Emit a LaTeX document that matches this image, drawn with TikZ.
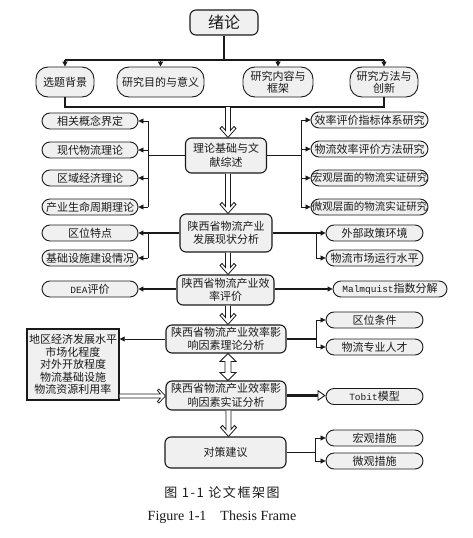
\documentclass[tikz,border=0pt]{standalone}
\usepackage{fontspec}
\setmainfont{Noto Sans CJK SC}
\newfontfamily\monofont{Liberation Mono}
\newfontfamily\serifen{Liberation Serif}
\newfontfamily\capcjk[LetterSpace=12]{Noto Sans CJK SC}
\usetikzlibrary{arrows.meta,calc}
\definecolor{boxgray}{HTML}{F0F0F0}
\definecolor{ink}{HTML}{1A1A1A}
\newcommand\mylat[1]{{\monofont\fontsize{9.5}{11}\selectfont #1}}
\begin{document}
\begin{tikzpicture}[x=1pt,y=-1pt,
  mainbox/.style={draw=ink, line width=1.1pt, rounded corners=6pt, fill=boxgray, align=center, inner sep=0pt, text=ink, font=\fontsize{11}{13.5}\selectfont},
  topbox/.style={draw=ink, line width=0.9pt, rounded corners=12pt, fill=boxgray, align=center, inner sep=0pt, text=ink, minimum height=30pt, font=\fontsize{11}{12}\selectfont},
  sidebox/.style={draw=ink, line width=0.9pt, rounded corners=8pt, fill=boxgray, inner sep=0pt, minimum height=16pt, text=ink, font=\fontsize{11}{13}\selectfont},
  lbox/.style={sidebox, minimum width=96pt},
  rbox/.style={sidebox, minimum width=117pt},
  qbox/.style={sidebox, minimum width=97pt},
  conn/.style={draw=ink, line width=1.3pt},
  thinl/.style={draw=ink, line width=0.8pt},
  tip/.style={-{Triangle[length=5pt,width=5pt]}},
  hollowdown/.style={fill=white, draw=ink, line width=0.8pt,
    to path={let \p1=(\tikztostart), \p2=(\tikztotarget) in
      (\x1-2.5pt,\y1) -- (\x1-2.5pt,\y2+7pt) -- (\x1-6pt,\y2+11pt) -- (\x1-8pt,\y2+9pt) -- (\x1,\y2)
      -- (\x1+8pt,\y2+9pt) -- (\x1+6pt,\y2+11pt) -- (\x1+2.5pt,\y2+7pt) -- (\x1+2.5pt,\y1)}},
  hollowboth/.style={fill=white, draw=ink, line width=0.8pt,
    to path={let \p1=(\tikztostart), \p2=(\tikztotarget) in
      (\x1,\y1) -- (\x1+8pt,\y1-8pt) -- (\x1+3pt,\y1-8pt) -- (\x1+3pt,\y2+8pt) -- (\x1+8pt,\y2+8pt) -- (\x1,\y2)
      -- (\x1-8pt,\y2+8pt) -- (\x1-3pt,\y2+8pt) -- (\x1-3pt,\y1-8pt) -- (\x1-8pt,\y1-8pt) -- cycle}},
  hollowright/.style={fill=white, draw=ink, line width=0.7pt,
    to path={let \p1=(\tikztostart), \p2=(\tikztotarget) in
      (\x1,\y1+2pt) -- (\x2-5pt,\y1+2pt) -- (\x2-8pt,\y1+5.5pt) -- (\x2-6.5pt,\y1+7pt) -- (\x2,\y1)
      -- (\x2-6.5pt,\y1-7pt) -- (\x2-8pt,\y1-5.5pt) -- (\x2-5pt,\y1-2pt) -- (\x1,\y1-2pt)}}
]
\useasboundingbox[fill=white] (0,0) rectangle (472,538);

% top
\node[mainbox, minimum width=68pt, minimum height=25pt, font=\fontsize{16}{18}\selectfont] (xulun) at (224,22.5) {绪论};
\node[topbox, minimum width=58pt] (bg) at (65,82) {选题背景};
\node[topbox, minimum width=87pt] (md) at (160.5,82) {研究目的与意义};
\node[topbox, minimum width=70pt] (nr) at (278,82) {研究内容与\\框架};
\node[topbox, minimum width=68pt] (ff) at (384,82) {研究方法与\\创新};

\coordinate (busA) at (0,60);
\coordinate (busB) at (0,107);
\draw[conn] (xulun.south) -- (xulun.south |- busA);
\draw[conn] (bg.north |- busA) -- (ff.north |- busA);
\foreach \n in {bg,md,nr,ff}{\draw[conn,tip] (\n.north |- busA) -- (\n.north);}
\draw[conn] (bg.south) -- (bg.south |- busB) -- (ff.south |- busB) -- (ff.south);

% theory
\node[mainbox, minimum width=81pt, minimum height=35pt] (ll) at (226,155.5) {理论基础与文\\献综述};
\coordinate (c1) at (228,107);
\draw[hollowdown] (c1) to (ll.north);

\node[lbox] (l1) at (90,121) {相关概念界定};
\node[lbox] (l2) at (90,150) {现代物流理论};
\node[lbox] (l3) at (90,178) {区域经济理论};
\node[lbox] (l4) at (90,207) {产业生命周期理论};
\node[rbox] (r1) at (369.5,120) {效率评价指标体系研究};
\node[rbox] (r2) at (369.5,149) {物流效率评价方法研究};
\node[rbox, font=\fontsize{10.5}{12}\selectfont] (r3) at (369.5,178) {宏观层面的物流实证研究};
\node[rbox, font=\fontsize{10.5}{12}\selectfont] (r4) at (369.5,207) {微观层面的物流实证研究};

\coordinate (lv) at (148,0);
\coordinate (rv) at (301,0);
\draw[conn] (ll.west) -- (ll.west -| lv);
\draw[thinl] (lv |- l1.east) -- (lv |- l4.east);
\foreach \n in {l1,l2,l3,l4}{\draw[thinl,tip] (lv |- \n.east) -- (\n.east);}
\draw[conn] (ll.east) -- (ll.east -| rv);
\draw[thinl] (rv |- r1.west) -- (rv |- r4.west);
\foreach \n in {r1,r2,r3,r4}{\draw[thinl,tip] (rv |- \n.west) -- (\n.west);}

% current state
\node[mainbox, minimum width=92pt, minimum height=38pt] (xz) at (226,233) {陕西省物流产业\\发展现状分析};
\draw[hollowdown] ([xshift=2pt]ll.south) to (xz.north);
\node[lbox] (q1) at (90,233) {区位特点};
\node[lbox] (q2) at (90,258) {基础设施建设情况};
\node[qbox] (w1) at (374.5,233) {外部政策环境};
\node[qbox] (w2) at (374.5,258) {物流市场运行水平};
\coordinate (rv2) at (316,0);
\draw[conn,tip] (xz.west) -- (q1.east);
\draw[thinl] (lv |- q1.east) -- (lv |- q2.east);
\draw[thinl,tip] (lv |- q2.east) -- (q2.east);
\draw[conn,tip] (xz.east) -- (w1.west);
\draw[thinl] (rv2 |- w1.west) -- (rv2 |- w2.west);
\draw[thinl,tip] (rv2 |- w2.west) -- (w2.west);

% efficiency
\node[mainbox, minimum width=97pt, minimum height=30pt] (xl) at (225.5,290) {陕西省物流产业效\\率评价};
\draw[hollowdown] ([xshift=2pt]xz.south) to (xl.north);
\node[lbox] (dea) at (90,289) {\mylat{DEA}评价};
\node[sidebox, minimum width=114pt] (mq) at (390,289) {\mylat{Malmquist}指数分解};
\draw[conn,tip] (dea.east -| xl.west) -- (dea.east);
\draw[conn,tip] (mq.west -| xl.east) -- (mq.west);

% factor theory
\node[mainbox, minimum width=120pt, minimum height=28pt] (lf) at (226,339) {陕西省物流产业效率影\\响因素理论分析};
\draw[hollowdown] ([xshift=2.5pt]xl.south) to (lf.north);
\node[qbox] (k1) at (374.5,320) {区位条件};
\node[qbox] (k2) at (374.5,347) {物流专业人才};
\draw[conn] (lf.east) -- (lf.east -| rv2);
\draw[thinl] (rv2 |- k1.west) -- (rv2 |- k2.west);
\draw[thinl,tip] (rv2 |- k1.west) -- (k1.west);
\draw[thinl,tip] (rv2 |- k2.west) -- (k2.west);

\node[draw=ink, line width=1.4pt, fill=boxgray, minimum width=92pt, minimum height=71pt, inner sep=0pt, align=center, text=ink, font=\fontsize{11}{12.6}\selectfont] (fac) at (73,364.5)
  {地区经济发展水平\\市场化程度\\对外开放程度\\物流基础设施\\物流资源利用率};
\draw[thinl,tip] (lf.west) -- (lf.west -| fac.east);

% factor empirical
\node[mainbox, minimum width=120pt, minimum height=29pt] (sz) at (226,395.5) {陕西省物流产业效率影\\响因素实证分析};
\draw[hollowboth] ([xshift=2pt]lf.south) to ([xshift=2pt]sz.north);
\draw[hollowright] ([yshift=-31.5pt]fac.east) to (sz.west);
\node[qbox] (tb) at (374.5,396.5) {\mylat{Tobit}模型};
\draw[draw=ink, line width=3pt, -{Triangle[open, length=8pt, width=11pt, line width=0.9pt]}] (sz.east) -- (sz.east -| tb.west);

% countermeasures
\node[mainbox, minimum width=121pt, minimum height=31pt] (dc) at (225.5,452.5) {对策建议};
\draw[hollowdown] ([xshift=2.5pt]sz.south) to (dc.north);
\node[qbox] (m1) at (374.5,438) {宏观措施};
\node[qbox] (m2) at (374.5,461) {微观措施};
\coordinate (rv3) at (315,0);
\draw[conn] (dc.east) -- (dc.east -| rv3);
\draw[thinl] (rv3 |- m1.west) -- (rv3 |- m2.west);
\draw[thinl,tip] (rv3 |- m1.west) -- (m1.west);
\draw[thinl,tip] (rv3 |- m2.west) -- (m2.west);

% captions
\node[text=ink, font=\capcjk\fontsize{13}{15}\selectfont] (cap1) at (222,493) {图 1-1 论文框架图};
\node[text=ink, font=\serifen\fontsize{14}{16}\selectfont] (cap2) at (222,517) {Figure 1-1\quad Thesis Frame};
\end{tikzpicture}
\end{document}
